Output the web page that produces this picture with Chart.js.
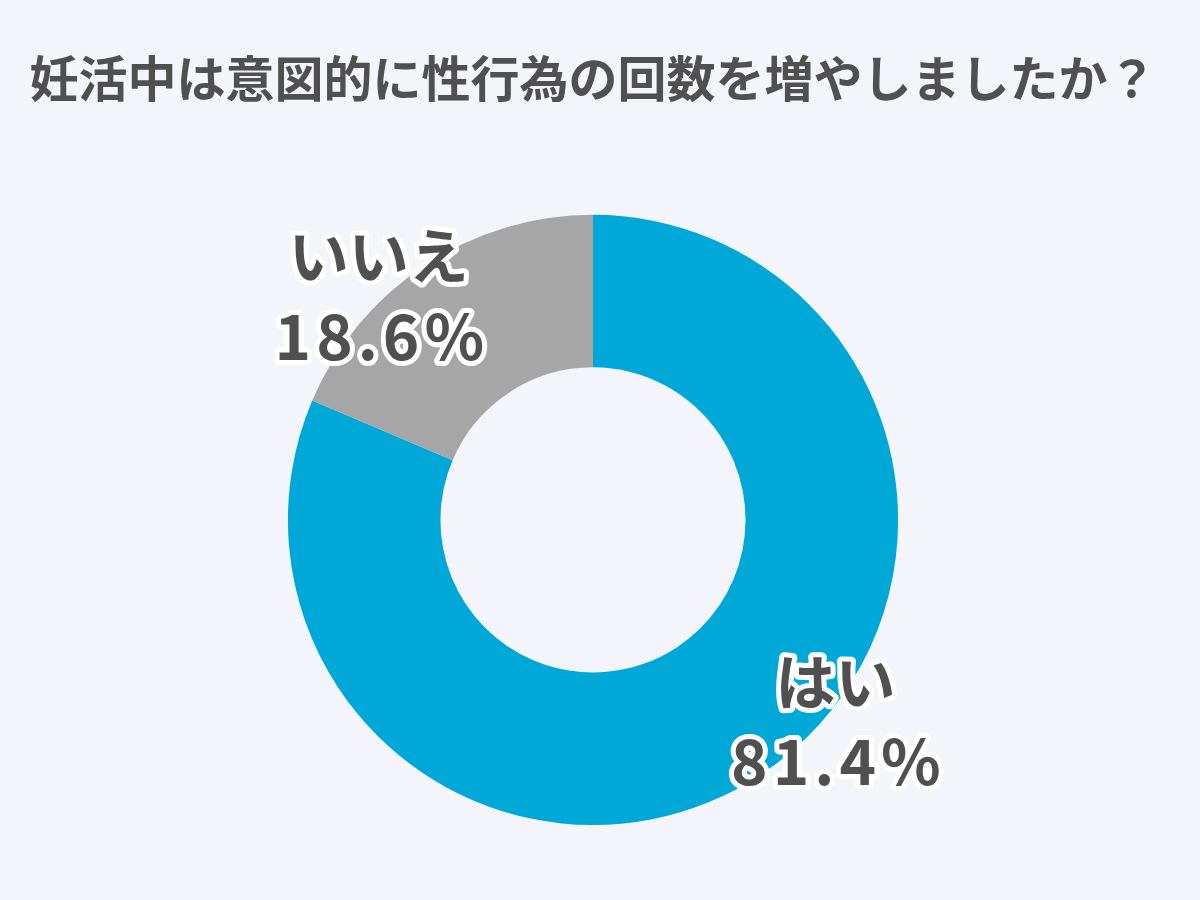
<!DOCTYPE html>
<html>
<head>
<meta charset="utf-8">
<script src="https://cdn.jsdelivr.net/npm/chart.js@4"></script>
<style>
  html, body { margin: 0; padding: 0; background: #f3f5fa; }
  #wrap { width: 1200px; height: 900px; }
</style>
</head>
<body>
<div id="wrap"><canvas id="chart" width="1200" height="900"></canvas></div>
<script>
const title = "妊活中は意図的に性行為の回数を増やしましたか？";
const labels = ["はい", "いいえ"];
const values = [81.4, 18.6];
const colors = ["#00a8d8", "#a6a6a6"];
// label placement: angle shift (deg) from slice middle, radius factor
const labelShift = [-17, -10];
const labelRadius = [1.03, 1.02];

const FONT = "'Noto Sans CJK JP', 'Noto Sans', sans-serif";

const outlinedLabels = {
  id: "outlinedLabels",
  afterDatasetsDraw(chart) {
    const ctx = chart.ctx;
    const meta = chart.getDatasetMeta(0);
    meta.data.forEach((arc, i) => {
      const mid = (arc.startAngle + arc.endAngle) / 2 + labelShift[i] * Math.PI / 180;
      const r = arc.outerRadius * labelRadius[i];
      const x = arc.x + Math.cos(mid) * r;
      const y = arc.y + Math.sin(mid) * r;
      ctx.save();
      ctx.textAlign = "center";
      ctx.textBaseline = "middle";
      ctx.lineJoin = "round";
      ctx.lineWidth = 10;
      ctx.strokeStyle = "#ffffff";
      ctx.fillStyle = "#505050";
      // name
      ctx.font = "bold 60px " + FONT;
      ctx.strokeText(labels[i], x, y - 38);
      ctx.fillText(labels[i], x, y - 38);
      // percentage, a little wider
      ctx.font = "bold 62px " + FONT;
      ctx.letterSpacing = "5px";
      const t = values[i].toFixed(1) + "%";
      ctx.strokeText(t, x + 3, y + 42);
      ctx.fillText(t, x + 3, y + 42);
      ctx.restore();
    });
  }
};

new Chart(document.getElementById("chart"), {
  type: "doughnut",
  data: {
    labels: labels,
    datasets: [{
      data: values,
      backgroundColor: colors,
      borderWidth: 0,
    }],
  },
  options: {
    responsive: false,
    animation: false,
    cutout: "50%",
    layout: { padding: { top: 0, bottom: 75, left: 0, right: 14 } },
    events: [],
    plugins: {
      legend: { display: false },
      tooltip: { enabled: false },
      title: {
        display: true,
        text: title,
        color: "#505050",
        font: { family: FONT, size: 49, weight: "bold" },
        padding: { top: 49, bottom: 107 },
      },
    },
  },
  plugins: [outlinedLabels],
});
</script>
</body>
</html>
